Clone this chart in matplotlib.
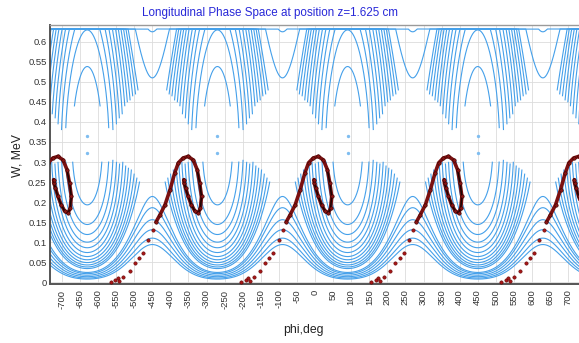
import numpy as np
import matplotlib
matplotlib.use('Agg')
import matplotlib.pyplot as plt

# ---------------- data ----------------
title = "Longitudinal Phase Space at position z=1.625 cm"
x_label = "phi,deg"
y_label = "W, MeV"
x_ticks = list(range(-700, 701, 50))
y_ticks = [0, 0.05, 0.1, 0.15, 0.2, 0.25, 0.3, 0.35, 0.4, 0.45, 0.5, 0.55, 0.6]

bucket_center_phi = 90.0        # stable phase (deg), repeats every 360
period_deg = 360.0
W_sync = 0.344                  # energy of the stable point (MeV)
bucket_depth = 0.17             # separatrix depth in sqrt(W) units
W_ceiling = 0.632               # trajectories flatten at the top

# trapped orbits: bottom W at bucket centre, end of lower legs, end of upper legs
trapped_bottom_W = [0.193, 0.144, 0.119, 0.100, 0.086, 0.074, 0.064, 0.056, 0.049, 0.043, 0.038, 0.034]
trapped_low_end_W = [0.300, 0.300, 0.305, 0.300, 0.295, 0.300, 0.290, 0.285, 0.280, 0.270, 0.260, 0.250]
trapped_up_end_W = [0.440, 0.385, 0.380, 0.395, 0.410, 0.420, 0.440, 0.450, 0.455, 0.465, 0.470, 0.480]

# untrapped orbits: hump tops in the lower family, dip bottoms in the upper family
passing_hump_W = [0.214, 0.186, 0.156, 0.131, 0.110, 0.094]
upper_dip_W = [0.510, 0.625]

# tiny orbit around the stable point
fixed_point_W = [0.322, 0.364]

# bunch (red particles), one period, repeated at each bunch centre
bunch_centers = [-720, -360, 0, 360, 720]
bunch_sparse_phi = [-205, -192, -186, -181, -170, -152, -138, -126, -115, -101, -88]
bunch_sparse_W = [0.001, 0.006, 0.010, 0.004, 0.012, 0.027, 0.048, 0.060, 0.073, 0.106, 0.131]
bunch_dense_phi = [-80, -69, -55, -41, -28, -18, -5, 9, 23, 34, 41, 46, 43, 37, 28, 18, 9, 2, -2, -3]
bunch_dense_W = [0.150, 0.168, 0.193, 0.231, 0.273, 0.298, 0.310, 0.314, 0.305, 0.281, 0.247,
                 0.214, 0.185, 0.173, 0.177, 0.193, 0.214, 0.235, 0.247, 0.256]

# ---------------- figure ----------------
plt.rcParams['font.family'] = ['Liberation Sans', 'DejaVu Sans']
fig = plt.figure(figsize=(5.79, 3.43), dpi=100)
ax = fig.add_axes([50 / 579, 59 / 343, 533 / 579, 259 / 343])

blue = '#45a0ea'
phi = np.linspace(-760, 760, 30401)
U = bucket_depth * (1 - np.cos(np.radians(phi - bucket_center_phi))) / 2
pc = np.sqrt(W_sync)

# trapped orbits
for wb, wl, wu in zip(trapped_bottom_W, trapped_low_end_W, trapped_up_end_W):
    E = (pc - np.sqrt(wb)) ** 2
    arg = E - U
    s = np.where(arg >= 0, np.sqrt(np.clip(arg, 0, None)), np.nan)
    low = (pc - s) ** 2
    low = np.where(low <= wl, low, np.nan)
    ax.plot(phi, low, color=blue, lw=0.8)
    up = np.minimum((pc + s) ** 2, W_ceiling)
    up = np.where(up >= wu, up, np.nan)
    ax.plot(phi, up, color=blue, lw=0.8)

# passing orbits, lower family
for wh in passing_hump_W:
    E = bucket_depth + (pc - np.sqrt(wh)) ** 2
    low = (pc - np.sqrt(E - U)) ** 2
    ax.plot(phi, low, color=blue, lw=0.8)

# passing orbits, upper family
for wd in upper_dip_W:
    E = bucket_depth + (np.sqrt(wd) - pc) ** 2
    up = np.minimum((pc + np.sqrt(E - U)) ** 2, W_ceiling)
    ax.plot(phi, up, color=blue, lw=0.8)

# stable-point dots
for k in range(-3, 3):
    c = bucket_center_phi + k * period_deg
    ax.plot([c] * len(fixed_point_W), fixed_point_W, ls='none', marker='o',
            ms=1.4, color='#7fbdf0', mec='#7fbdf0')

# bunch
for c in bunch_centers:
    sp = np.array(bunch_sparse_phi) + c
    dp = np.array(bunch_dense_phi) + c
    ax.plot(sp, bunch_sparse_W, ls='none', marker='o', ms=2.4, color='#a81818',
            mec='#600000', mew=0.4, zorder=5)
    ax.plot(dp, bunch_dense_W, color='#7a1010', lw=2.6, solid_capstyle='round', zorder=5)
    ax.plot(dp[9:], bunch_dense_W[9:], color='#1a0505', lw=1.1, zorder=6)
    ax.plot(dp, bunch_dense_W, ls='none', marker='o', ms=2.5, color='#8b1414',
            mec='#300000', mew=0.4, zorder=6)

ax.set_xlim(-733, 741)
ax.set_ylim(-0.0045, 0.642)
ax.set_xticks(x_ticks)
ax.set_xticklabels([str(v) for v in x_ticks], rotation=90)
ax.set_yticks(y_ticks)
ax.set_yticklabels([('%g' % v) for v in y_ticks])
ax.tick_params(axis='both', length=0, labelsize=6.8, colors='#333333')
ax.tick_params(axis='y', pad=2.5)
ax.tick_params(axis='x', pad=4)
ax.grid(True, color='#dcdcdc', lw=0.6)
ax.set_axisbelow(True)
for side in ['left', 'bottom']:
    ax.spines[side].set_color('#555555')
    ax.spines[side].set_linewidth(1.4)
ax.spines['top'].set_color('#9a9a9a')
ax.spines['top'].set_linewidth(1.0)
ax.spines['right'].set_visible(False)

fig.text(270 / 579, 1 - 13 / 343, title, ha='center', va='center', color='#2828d8', fontsize=8.4)
fig.text(18 / 579, 1 - 156 / 343, y_label, ha='center', va='center', rotation=90,
         color='#222222', fontsize=8.8)
fig.text(303 / 579, 1 - 330 / 343, x_label, ha='center', va='center', color='#222222', fontsize=8.8)

fig.savefig('out.png', dpi=100)
